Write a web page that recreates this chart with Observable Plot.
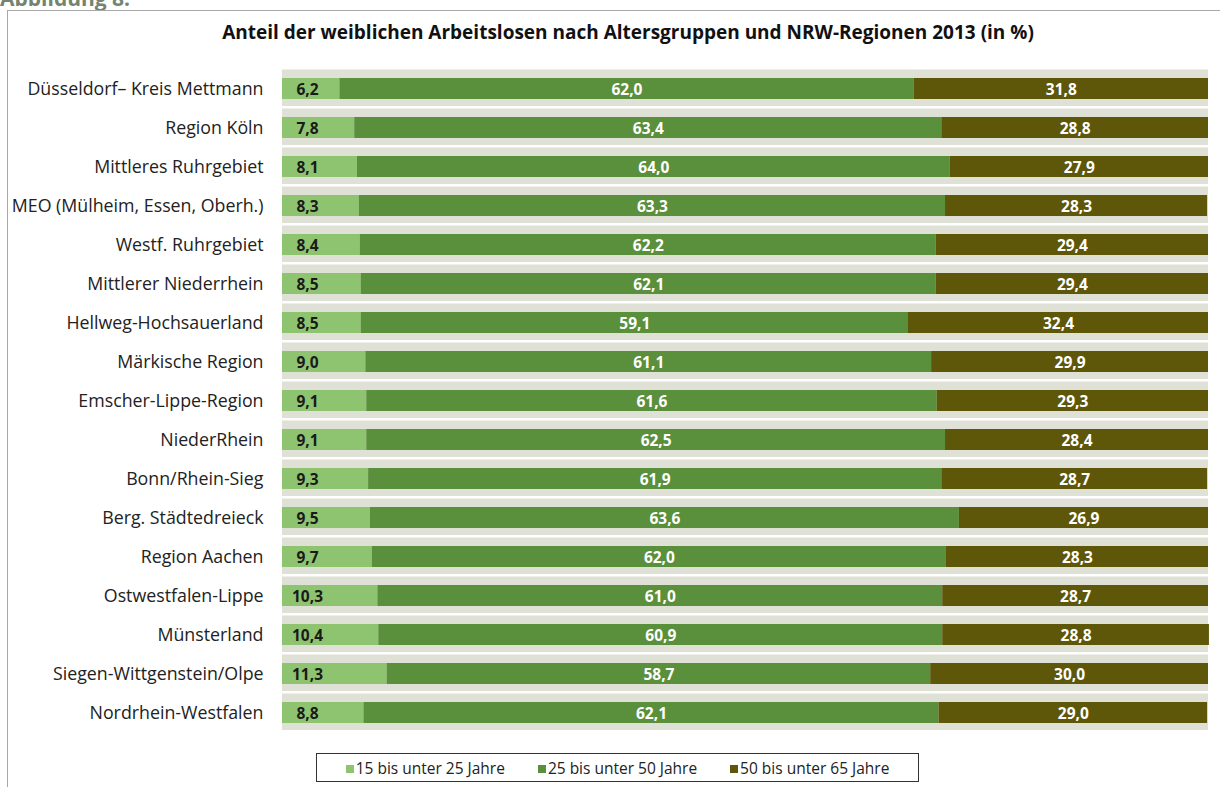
<!DOCTYPE html>
<html>
<head>
<meta charset="utf-8">
<script src="https://cdn.jsdelivr.net/npm/d3@7"></script>
<script src="https://cdn.jsdelivr.net/npm/@observablehq/plot@0.6"></script>
<style>
  html, body { margin: 0; padding: 0; background: #fff; }
  #page { position: relative; width: 1220px; height: 787px; overflow: hidden; font-family: "Open Sans", Lato, sans-serif; }
  #fig { position: absolute; left: 0; top: -16px; font-weight: bold; font-size: 21px; color: #74846f; }
  #frame { position: absolute; left: 7px; top: 10px; width: 1400px; height: 1000px; border: 1px solid #a8a8a8; box-sizing: border-box; }
  #title { position: absolute; left: 0; width: 1256px; top: 19px; text-align: center; font-weight: bold; font-size: 19px; color: #111; }
  #chart { position: absolute; left: 0; top: 0; }
  #legend { position: absolute; left: 316px; top: 753px; width: 603px; height: 29px; border: 1px solid #333; box-sizing: border-box; display: flex; align-items: center; justify-content: center; gap: 33px; font-size: 15.5px; color: #222; background: #fff; }
  #legend span.sw { display: inline-block; width: 8px; height: 8px; margin-right: 2px; vertical-align: 1px; }
</style>
</head>
<body>
<div id="page">
  <div id="fig">Abbildung 8:</div>
  <div id="frame"></div>
  <div id="title">Anteil der weiblichen Arbeitslosen nach Altersgruppen und NRW-Regionen 2013 (in %)</div>
  <div id="chart"></div>
  <div id="legend"></div>
</div>
<script>
const regions = [
  "Düsseldorf– Kreis Mettmann",
  "Region Köln",
  "Mittleres Ruhrgebiet",
  "MEO (Mülheim, Essen, Oberh.)",
  "Westf. Ruhrgebiet",
  "Mittlerer Niederrhein",
  "Hellweg-Hochsauerland",
  "Märkische Region",
  "Emscher-Lippe-Region",
  "NiederRhein",
  "Bonn/Rhein-Sieg",
  "Berg. Städtedreieck",
  "Region Aachen",
  "Ostwestfalen-Lippe",
  "Münsterland",
  "Siegen-Wittgenstein/Olpe",
  "Nordrhein-Westfalen"
];
const age15to25 = [6.2, 7.8, 8.1, 8.3, 8.4, 8.5, 8.5, 9.0, 9.1, 9.1, 9.3, 9.5, 9.7, 10.3, 10.4, 11.3, 8.8];
const age25to50 = [62.0, 63.4, 64.0, 63.3, 62.2, 62.1, 59.1, 61.1, 61.6, 62.5, 61.9, 63.6, 62.0, 61.0, 60.9, 58.7, 62.1];
const age50to65 = [31.8, 28.8, 27.9, 28.3, 29.4, 29.4, 32.4, 29.9, 29.3, 28.4, 28.7, 26.9, 28.3, 28.7, 28.8, 30.0, 29.0];
const groups = ["15 bis unter 25 Jahre", "25 bis unter 50 Jahre", "50 bis unter 65 Jahre"];
const colors = ["#8ec46f", "#5a8f3b", "#5e5608"];
const labelColors = ["#1a1a1a", "#ffffff", "#ffffff"];

const series = [age15to25, age25to50, age50to65];
const rows = [];
regions.forEach((r, i) => {
  let start = 0;
  series.forEach((s, g) => {
    rows.push({region: r, group: groups[g], gi: g, value: s[i], x1: start, x2: start + s[i]});
    start += s[i];
  });
});
const fmt = v => v.toFixed(1).replace(".", ",");
const labelRows = rows.filter(d => d.gi > 0);
const firstRows = rows.filter(d => d.gi === 0);

const chart = Plot.plot({
  width: 1220,
  height: 745,
  marginTop: 61,
  marginBottom: 6,
  marginLeft: 282,
  marginRight: 12,
  style: {fontFamily: "'Open Sans', Lato, sans-serif", fontSize: "16px", color: "#222", background: "transparent"},
  x: {domain: [0, 100], axis: null},
  y: {domain: regions, padding: 0, label: null},
  color: {domain: groups, range: colors},
  marks: [
    Plot.cell(regions, {y: d => d, fill: "#e0e1d6", insetTop: 0.5, insetBottom: 2}),
    Plot.barX(rows, {y: "region", x1: "x1", x2: "x2", fill: "group", insetTop: 9, insetBottom: 9}),
    Plot.text(firstRows, {y: "region", x: "x1", dx: 25, text: d => fmt(d.value), fill: labelColors[0], fontWeight: "bold", fontSize: 15.5, dy: 1}),
    Plot.text(labelRows, {y: "region", x: d => (d.x1 + d.x2) / 2, text: d => fmt(d.value), fill: d => labelColors[d.gi], fontWeight: "bold", fontSize: 15.5, dy: 1}),
    Plot.axisY({tickSize: 0, tickPadding: 19, label: null, fontSize: 17.8})
  ]
});
document.getElementById("chart").appendChild(chart);

const legend = document.getElementById("legend");
groups.forEach((g, i) => {
  const item = document.createElement("div");
  item.innerHTML = `<span class="sw" style="background:${colors[i]}"></span>${g}`;
  legend.appendChild(item);
});
</script>
</body>
</html>
